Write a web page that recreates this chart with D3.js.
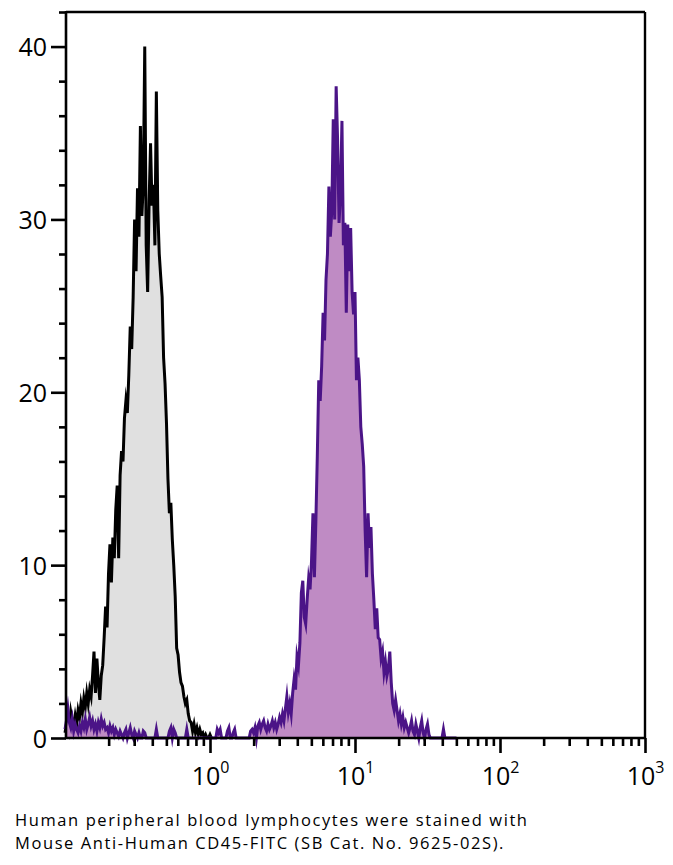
<!DOCTYPE html>
<html>
<head>
<meta charset="utf-8">
<script src="https://cdn.jsdelivr.net/npm/d3@7"></script>
<style>
  html, body { margin: 0; padding: 0; background: #fff; }
  svg { display: block; }
  text { font-family: "Open Sans", "Noto Sans", sans-serif; fill: #000; }
</style>
</head>
<body>
<svg id="chart" width="673" height="865"></svg>
<script>
// ---- Data ----
// Histogram channels: log10 fluorescence, first channel and channel width
const binStartLog = -1.0;
const binStepLog = 0.01;

// Unstained control (grey fill, black outline), counts per channel
const grayCounts = [
  0.3,0.8,1.2,0.6,1.5,1.0,0.7,1.3,0.8,1.6,
  1.2,2.0,1.5,2.3,1.8,2.6,2.0,2.8,2.4,3.6,
  5.0,2.6,4.6,3.2,2.2,3.6,4.2,5.8,7.6,6.4,
  9.5,11.2,9.0,11.6,10.4,13.2,14.6,10.4,15.2,16.6,
  16.0,18.5,19.5,18.8,21.0,23.8,22.5,25.5,30.0,27.0,
  31.8,29.0,35.4,30.2,32.0,40.0,28.5,25.8,31.0,34.4,
  30.8,32.0,28.5,37.4,30.5,28.0,26.7,25.5,22.0,20.5,
  18.2,15.0,13.0,13.6,11.5,10.0,8.2,5.2,4.8,3.8,
  3.2,3.0,2.4,2.0,2.2,1.4,1.0,0.9,0.4,0.8,
  0.3,0.6,0.2,0.5,0.2,0.3,0,0.2,0,0,
  0.2,0
];

// CD45-FITC stained (purple), counts per channel
const purpleCounts = [
  0.5,1.0,1.7,0.9,0.6,1.1,0.4,0.8,0.5,0.3,
  0.7,0.4,0.9,0.6,1.1,0.5,0.8,1.2,0.7,1.0,
  0.5,0.8,0.4,0.9,0.6,1.1,0.7,0.9,0.5,0.6,
  0.3,0.7,0.4,0.6,0.2,0.5,0.3,0.1,0.4,0.2,
  0,0.3,0.5,0,0.3,0.6,0.2,0,0.4,0.2,
  0,0.3,0,0,0.4,0.3,0,0,0,0,
  0,0,0,0.5,0,0,0,0,0,0,
  0,0,0.4,0.6,0,0.5,0.3,0,0,0,
  0,0,0,0,0.5,0,0,0,0,0,
  0,0,0,0,0,0,0,0,0,0,
  0,0,0,0,0,0.5,0.3,0.5,0,0,
  0,0,0.4,0.6,0,0,0.3,0.5,0,0,
  0,0,0,0,0,0,0,0,0.4,0.5,
  0.3,0.6,0,0.7,0.9,0.5,0.8,1.0,0.6,0.4,
  0.8,0.5,0.7,1.0,0.6,0.9,0.5,0.8,1.2,0.9,
  1.4,1.0,1.7,2.4,1.5,2.0,1.4,2.6,3.4,2.8,
  4.7,4.2,5.5,8.4,9.1,7.0,6.6,8.0,9.2,8.6,
  10.2,13.0,9.3,12.5,16.3,20.7,19.5,21.5,24.6,23.0,
  26.5,28.0,31.9,29.0,30.5,35.8,30.0,37.7,34.6,29.8,
  31.5,35.7,28.5,29.8,24.6,29.7,27.0,29.5,25.8,24.5,
  25.8,20.7,22.0,20.7,18.0,17.0,15.7,12.0,9.3,13.0,
  11.0,12.2,9.5,8.0,6.3,7.5,5.8,5.7,4.6,5.0,
  3.8,4.4,3.6,4.0,5.0,3.2,2.0,1.6,2.2,1.6,
  1.0,1.4,0.8,1.2,0.6,0.9,0.6,0.3,0.6,1.0,
  0.4,0.2,0.8,0.4,0,0.6,1.0,0.3,0,0.5,
  0.8,0.2,0,0,0,0,0,0,0,0,
  0,0.5,0,0,0,0,0,0,0,0,0
];

const xDomain = [0.1, 1000];
const yDomain = [0, 42];
const yMajorTicks = [0, 10, 20, 30, 40];
const yMinorTicks = [2,4,6,8,12,14,16,18,22,24,26,28,32,34,36,38,42];
const xMajorTicks = [1, 10, 100, 1000];
const xMajorExponents = ["0", "1", "2", "3"];
const captionLines = [
  "Human peripheral blood lymphocytes were stained with",
  "Mouse Anti-Human CD45-FITC (SB Cat. No. 9625-02S)."
];

(function draw() {
  const svg = d3.select("#chart");
  const pL = 65, pR = 645, pT = 12, pB = 738;

  const x = d3.scaleLog().domain(xDomain).range([pL, pR]);
  const y = d3.scaleLinear().domain(yDomain).range([pB, pT]);

  const toSeries = counts => counts.map((c, i) => ({
    v: Math.pow(10, binStartLog + i * binStepLog), c
  }));
  const graySeries = toSeries(grayCounts);
  const purpleSeries = toSeries(purpleCounts);

  const area = d3.area().x(d => x(d.v)).y0(y(0)).y1(d => y(d.c));
  const line = d3.line().x(d => x(d.v)).y(d => y(d.c));

  const plot = svg.append("g");
  plot.append("path").datum(graySeries).attr("d", area).attr("fill", "#e0e0e0");
  plot.append("path").datum(graySeries).attr("d", line)
    .attr("fill", "none").attr("stroke", "#000").attr("stroke-width", 3)
    .attr("stroke-linejoin", "miter").attr("stroke-miterlimit", 10);
  plot.append("path").datum(purpleSeries).attr("d", area).attr("fill", "#bf8bc4");
  plot.append("path").datum(purpleSeries).attr("d", line)
    .attr("fill", "none").attr("stroke", "#4b1487").attr("stroke-width", 3)
    .attr("stroke-linejoin", "miter").attr("stroke-miterlimit", 10);

  const axisStroke = 2.6;
  // frame
  svg.append("line").attr("x1", pL + 1).attr("x2", pR).attr("y1", pT).attr("y2", pT)
    .attr("stroke", "#000").attr("stroke-width", 2.4);
  svg.append("line").attr("x1", pR).attr("x2", pR).attr("y1", pT).attr("y2", pB)
    .attr("stroke", "#000").attr("stroke-width", 2.4);

  // Y axis
  const yAxisMajor = d3.axisLeft(y).tickValues(yMajorTicks).tickSize(15).tickPadding(4)
    .tickFormat(d3.format("d"));
  const gy = svg.append("g").attr("transform", `translate(${pL + 1},0)`).call(yAxisMajor);
  gy.select(".domain").remove();
  gy.selectAll(".tick line").attr("stroke", "#000").attr("stroke-width", axisStroke);
  gy.selectAll(".tick text").style("font-size", "25px").attr("dy", "0.36em");

  const yAxisMinor = d3.axisLeft(y).tickValues(yMinorTicks).tickSize(7).tickFormat("");
  const gym = svg.append("g").attr("transform", `translate(${pL + 1},0)`).call(yAxisMinor);
  gym.select(".domain").remove();
  gym.selectAll(".tick line").attr("stroke", "#000").attr("stroke-width", axisStroke);

  // X axis
  const xMinor = [];
  for (let e = -1; e < 3; e++) {
    for (let m = 2; m <= 9; m++) xMinor.push(m * Math.pow(10, e));
  }
  const xAxisMinor = d3.axisBottom(x).tickValues(xMinor).tickSize(8).tickFormat("");
  const gxm = svg.append("g").attr("transform", `translate(0,${pB})`).call(xAxisMinor);
  gxm.select(".domain").remove();
  gxm.selectAll(".tick line").attr("stroke", "#000").attr("stroke-width", axisStroke);

  const xAxisMajor = d3.axisBottom(x).tickValues(xMajorTicks).tickSize(15).tickFormat("");
  const gx = svg.append("g").attr("transform", `translate(0,${pB})`).call(xAxisMajor);
  gx.select(".domain").remove();
  gx.selectAll(".tick line").attr("stroke", "#000").attr("stroke-width", axisStroke);

  const xl = gx.selectAll(".tick").append("text")
    .attr("y", 47).attr("text-anchor", "middle").attr("fill", "#000")
    .style("font-size", "25px");
  xl.append("tspan").text("10");
  xl.append("tspan").text((d, i) => xMajorExponents[i])
    .attr("dy", -12).style("font-size", "16px");

  // Axis lines on top so zero baselines sit underneath
  svg.append("line").attr("x1", pL + 1).attr("x2", pL + 1).attr("y1", pT - 1).attr("y2", pB + 1)
    .attr("stroke", "#000").attr("stroke-width", axisStroke);
  svg.append("line").attr("x1", pL).attr("x2", pR + 1).attr("y1", pB).attr("y2", pB)
    .attr("stroke", "#000").attr("stroke-width", axisStroke);

  // Caption
  const cap = svg.append("g");
  captionLines.forEach((t, i) => {
    cap.append("text").attr("x", 15).attr("y", 826 + i * 22.5)
      .style("font-size", "16.5px").text(t);
  });
  const first = cap.select("text").node();
  const w = first.getComputedTextLength();
  const nChars = captionLines[0].length;
  const ls = Math.max(0, (512 - w) / (nChars - 1));
  cap.selectAll("text").attr("letter-spacing", ls.toFixed(3));
})();
</script>
</body>
</html>
